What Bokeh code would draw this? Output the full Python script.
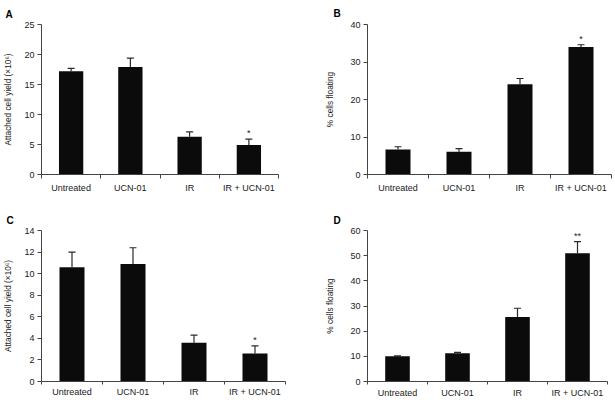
from bokeh.plotting import figure
from bokeh.models import (ColumnDataSource, FixedTicker, SingleIntervalTicker, Whisker,
                          TeeHead, Range1d)
from bokeh.layouts import column, row
from bokeh.embed import file_html
from bokeh.resources import INLINE
from bokeh.core.properties import value

categories = ["Untreated", "UCN-01", "IR", "IR + UCN-01"]

a_vals = [17.2, 17.9, 6.3, 4.9]
a_err = [0.5, 1.5, 0.8, 1.0]
a_sig = ["", "", "", "*"]

b_vals = [6.7, 6.1, 24.1, 34.0]
b_err = [0.7, 0.8, 1.5, 0.6]
b_sig = ["", "", "", "*"]

c_vals = [10.6, 10.9, 3.6, 2.6]
c_err = [1.4, 1.5, 0.7, 0.7]
c_sig = ["", "", "", "*"]

d_vals = [10.0, 11.2, 25.6, 51.0]
d_err = [0.2, 0.4, 3.5, 4.6]
d_sig = ["", "", "", "**"]

yield_label = "Attached cell yield (\u00d710\u2076)"
float_label = "% cells floating"

FONT = "Liberation Sans"
INK = "#1a1a1a"


def panel(letter, vals, errs, sig, ymax, ystep, ylabel, width, height,
          bl, br, bt, bb, letter_dx, letter_gap, label_gap, tick_out, tick_gap):
    xs = list(range(len(categories)))
    tops = [v + e for v, e in zip(vals, errs)]
    src = ColumnDataSource(dict(x=xs, y=vals, top=tops, sig=sig))
    p = figure(width=width, height=height, output_backend="svg", toolbar_location=None,
               x_range=Range1d(-0.5, len(categories) - 0.5), y_range=Range1d(0, ymax),
               min_border_left=bl, min_border_right=br, min_border_top=bt,
               min_border_bottom=bb, title=letter)
    p.outline_line_color = None
    p.grid.visible = False
    p.background_fill_color = "white"
    p.border_fill_color = "white"

    p.title.align = "left"
    p.title.offset = -letter_dx
    p.title.text_font = FONT
    p.title.text_font_size = "10px"
    p.title.text_font_style = "bold"
    p.title.text_color = "black"
    p.title.standoff = letter_gap

    p.vbar(x="x", top="y", bottom=0, width=0.41, source=src, fill_color="#0b0b0b",
           line_color=None)
    p.add_layout(Whisker(source=src, base="x", lower="y", upper="top",
                         line_color="#2a2a2a", line_width=1.2,
                         upper_head=TeeHead(size=7, line_color="#2a2a2a", line_width=1.2),
                         lower_head=None))
    p.text(x="x", y="top", text="sig", source=src, text_align="center",
           text_baseline="bottom", y_offset=-1, text_font=value(FONT),
           text_font_size="9px", text_color=INK)

    xa = p.xaxis[0]
    xa.ticker = FixedTicker(ticks=xs, minor_ticks=[i - 0.5 for i in range(len(categories) + 1)])
    xa.major_label_overrides = {i: c for i, c in enumerate(categories)}
    xa.major_tick_line_color = None
    xa.major_tick_out = 0
    xa.major_tick_in = 0
    xa.minor_tick_in = 0
    xa.minor_tick_out = tick_out
    xa.minor_tick_line_color = "#444"
    xa.axis_line_color = "#444"
    xa.major_label_text_font = FONT
    xa.major_label_text_font_size = "9px"
    xa.major_label_text_color = INK
    xa.major_label_standoff = tick_gap

    ya = p.yaxis[0]
    ya.ticker = SingleIntervalTicker(interval=ystep, num_minor_ticks=0)
    ya.major_tick_in = 0
    ya.major_tick_out = 4
    ya.minor_tick_line_color = None
    ya.axis_line_color = "#444"
    ya.major_tick_line_color = "#444"
    ya.major_label_text_font = FONT
    ya.major_label_text_font_size = "9px"
    ya.major_label_text_color = INK
    ya.major_label_standoff = 3
    ya.axis_label = ylabel
    ya.axis_label_text_font = FONT
    ya.axis_label_text_font_size = "8.3px"
    ya.axis_label_text_font_style = "normal"
    ya.axis_label_text_color = INK
    ya.axis_label_standoff = label_gap
    return p


pa = panel("A", a_vals, a_err, a_sig, 25, 5, yield_label, 305, 195,
           41, 27, 23, 17, 36, 10, 8, 4, 4)
pb = panel("B", b_vals, b_err, b_sig, 40, 10, float_label, 310, 195,
           62, 4, 24, 21, 34, 11, 12, 4, 4)
pc = panel("C", c_vals, c_err, c_sig, 14, 2, yield_label, 305, 205,
           40, 20, 35, 16, 35, 10, 8, 3, 2)
pd = panel("D", d_vals, d_err, d_sig, 60, 10, float_label, 310, 205,
           62, 8, 35, 18, 34, 10, 12, 3, 3)

layout = column(row(pa, pb), row(pc, pd))

open("out.html", "w").write(file_html(layout, INLINE))
